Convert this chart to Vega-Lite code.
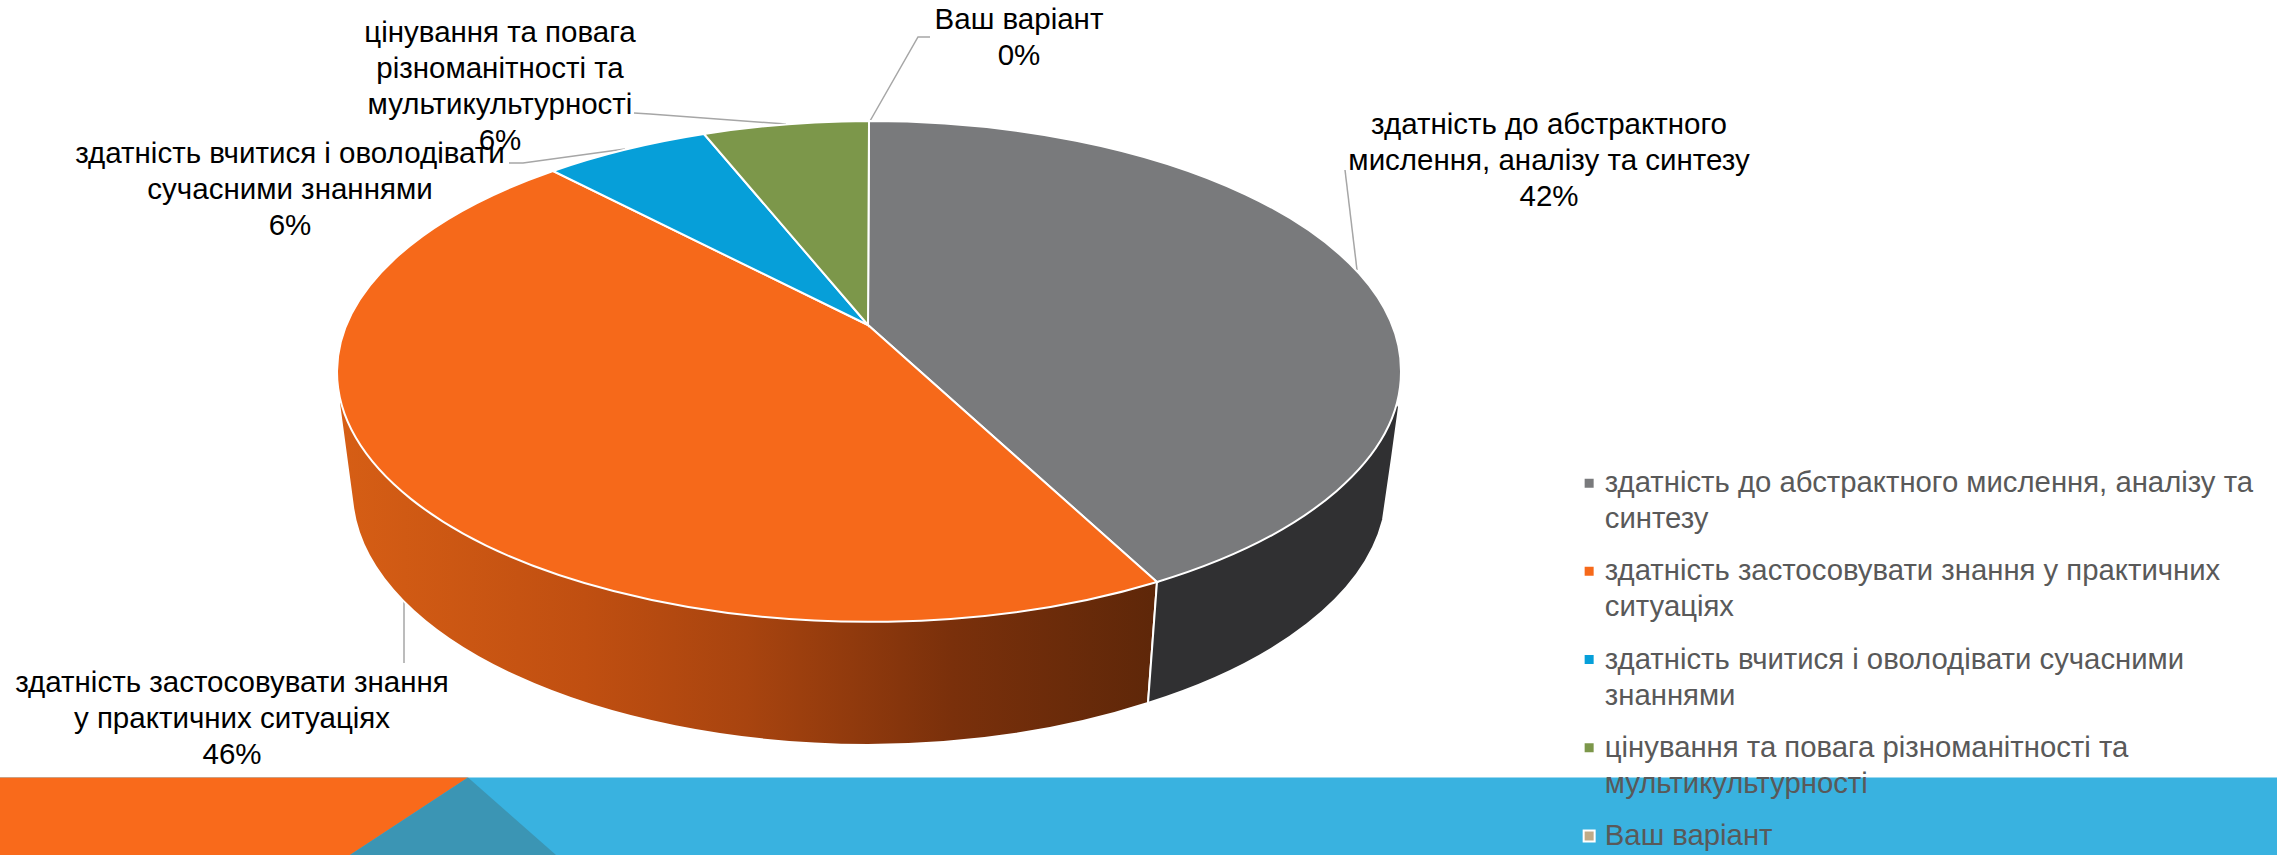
{
"$schema":"https://vega.github.io/schema/vega-lite/v6.json",
"width":2277,"height":855,"padding":0,"autosize":{"type":"fit","contains":"padding"},
"background":"#ffffff",
"config":{"view":{"stroke":null},"axis":{"disable":true}},
"datasets":{
"slices":[
{"category":"здатність до абстрактного мислення, аналізу та синтезу","share":42,"labelText":"здатність до абстрактного\nмислення, аналізу та синтезу\n42%","labelX":1549,"labelY":125},
{"category":"здатність застосовувати знання у практичних ситуаціях","share":46,"labelText":"здатність застосовувати знання\nу практичних ситуаціях\n46%","labelX":232,"labelY":683},
{"category":"здатність вчитися і оволодівати сучасними знаннями","share":6,"labelText":"здатність вчитися і оволодівати\nсучасними знаннями\n6%","labelX":290,"labelY":154},
{"category":"цінування та повага різноманітності та мультикультурності","share":6,"labelText":"цінування та повага\nрізноманітності та\nмультикультурності\n6%","labelX":500,"labelY":33},
{"category":"Ваш варіант","share":0,"labelText":"Ваш варіант\n0%","labelX":1019,"labelY":20}
],
"leaders":[
{"leader":"a","step":1,"x":1357,"y":270},{"leader":"a","step":2,"x":1345,"y":170},
{"leader":"b","step":1,"x":404,"y":597},{"leader":"b","step":2,"x":404,"y":663},
{"leader":"c","step":1,"x":625,"y":149},{"leader":"c","step":2,"x":523,"y":163},{"leader":"c","step":3,"x":509,"y":163},
{"leader":"d","step":1,"x":786,"y":124},{"leader":"d","step":2,"x":650,"y":114},{"leader":"d","step":3,"x":634,"y":113},
{"leader":"e","step":1,"x":870,"y":121},{"leader":"e","step":2,"x":918,"y":37},{"leader":"e","step":3,"x":930,"y":37}
],
"bandOrange":[{"x":0,"top":777.5,"bottom":855},{"x":350,"top":777.5,"bottom":855},{"x":468,"top":777.5,"bottom":777.5}],
"bandTeal":[{"x":350,"top":855,"bottom":855},{"x":468,"top":777.5,"bottom":855},{"x":556,"top":855,"bottom":855}],
"bandBlue":[{"x":0,"x2":2277,"top":777.5,"bottom":855}]
},
"layer":[
{"data":{"name":"bandBlue"},"mark":{"type":"rect","fill":"#39b2e0"},
 "encoding":{"x":{"field":"x","type":"quantitative","scale":{"domain":[0,2277],"nice":false,"zero":false}},"x2":{"field":"x2"},"y":{"field":"top","type":"quantitative","scale":{"domain":[855,0],"nice":false,"zero":false}},"y2":{"field":"bottom"}}},
{"data":{"name":"bandOrange"},"mark":{"type":"area","fill":"#f96a1b","opacity":1},
 "encoding":{"x":{"field":"x","type":"quantitative"},"y":{"field":"top","type":"quantitative"},"y2":{"field":"bottom"}}},
{"data":{"name":"bandTeal"},"mark":{"type":"area","fill":"#3b95b4","opacity":1},
 "encoding":{"x":{"field":"x","type":"quantitative"},"y":{"field":"top","type":"quantitative"},"y2":{"field":"bottom"}}},
{"data":{"name":"leaders"},"mark":{"type":"line","stroke":"#a6a6a6","strokeWidth":1.5},
 "encoding":{"x":{"field":"x","type":"quantitative"},"y":{"field":"y","type":"quantitative"},"detail":{"field":"leader"},"order":{"field":"step"}}},
{"data":{"name":"slices"},"transform":[{"filter":"datum.share==46"}],
 "mark":{"type":"point","filled":true,"opacity":1,"size":4,"stroke":"#ffffff","strokeWidth":2,"shape":"M-523,70L-529,78L-515,182A519,255 0 0,0 0,420A519,255 0 0,0 280,378L289,257Z",
  "fill":{"gradient":"linear","x1":0,"y1":0,"x2":1,"y2":0,"stops":[{"offset":0,"color":"#d65e15"},{"offset":0.3,"color":"#c04f11"},{"offset":0.5,"color":"#a8440f"},{"offset":0.75,"color":"#7a300b"},{"offset":1,"color":"#5e2709"}]}},
 "encoding":{"x":{"datum":868,"type":"quantitative"},"y":{"datum":325,"type":"quantitative"}}},
{"data":{"name":"slices"},"transform":[{"filter":"datum.share==42"}],
 "mark":{"type":"point","filled":true,"opacity":1,"size":4,"stroke":"#ffffff","strokeWidth":2,"fill":"#303032","shape":"M289,257L280,378A519,255 0 0,0 515,195L524,133L531,82L525,70Z"},
 "encoding":{"x":{"datum":868,"type":"quantitative"},"y":{"datum":325,"type":"quantitative"}}},
{"data":{"name":"slices"},
 "mark":{"type":"point","filled":true,"opacity":1,"size":4,"stroke":"#ffffff","strokeWidth":2},
 "encoding":{"x":{"datum":868,"type":"quantitative"},"y":{"datum":325,"type":"quantitative"},
  "shape":{"field":"category","type":"nominal","legend":null,"scale":{
    "domain":["здатність до абстрактного мислення, аналізу та синтезу","здатність застосовувати знання у практичних ситуаціях","здатність вчитися і оволодівати сучасними знаннями","цінування та повага різноманітності та мультикультурності","Ваш варіант"],
    "range":["M0,0L1,-204A532,250 0 0,1 533,46A532,250 0 0,1 289,257Z","M0,0L289,257A532,250 0 0,1 -531,46A532,250 0 0,1 -315,-154Z","M0,0L-315,-154A532,250 0 0,1 -164,-191Z","M0,0L-164,-191A532,250 0 0,1 1,-204Z","M1,-204L1,-204Z"]}},
  "fill":{"field":"category","type":"nominal","legend":null,"scale":{
    "domain":["здатність до абстрактного мислення, аналізу та синтезу","здатність застосовувати знання у практичних ситуаціях","здатність вчитися і оволодівати сучасними знаннями","цінування та повага різноманітності та мультикультурності","Ваш варіант"],
    "range":["#797a7c","#f6691a","#069fd9","#7c974a","#c0ab88"]}}}},
{"data":{"name":"slices"},
 "mark":{"type":"square","filled":true,"size":4,"opacity":0},
 "encoding":{"x":{"datum":868,"type":"quantitative"},"y":{"datum":325,"type":"quantitative"},
  "color":{"field":"category","type":"nominal","scale":{
    "domain":["здатність до абстрактного мислення, аналізу та синтезу","здатність застосовувати знання у практичних ситуаціях","здатність вчитися і оволодівати сучасними знаннями","цінування та повага різноманітності та мультикультурності","Ваш варіант"],
    "range":["#797a7c","#f6691a","#069fd9","#7c974a","#c0ab88"]},
   "legend":{"title":null,"orient":"none","legendX":1574.5,"legendY":468.5,"symbolType":"square","symbolSize":121,"symbolStrokeColor":"#ffffff","symbolStrokeWidth":2,"symbolOpacity":1,"labelFont":"Liberation Sans","labelFontSize":29.3,"labelColor":"#595959","labelLimit":700,"labelOffset":1,"rowPadding":22.2,
    "encode":{"labels":{"update":{"lineHeight":{"value":36}}}},
    "labelExpr":"split(replace(replace(replace(replace(datum.label,'та синтезу','та|синтезу'),'практичних ситуаціях','практичних|ситуаціях'),'сучасними знаннями','сучасними|знаннями'),'та мультикультурності','та|мультикультурності'),'|')"}}}},
{"data":{"name":"slices"},
 "mark":{"type":"text","font":"Liberation Sans","fontSize":29.5,"lineHeight":36,"lineBreak":"\n","align":"center","baseline":"middle","color":"#000000"},
 "encoding":{"x":{"field":"labelX","type":"quantitative"},"y":{"field":"labelY","type":"quantitative"},"text":{"field":"labelText"}}}
],
"resolve":{"scale":{"color":"independent","fill":"independent"}}
}
